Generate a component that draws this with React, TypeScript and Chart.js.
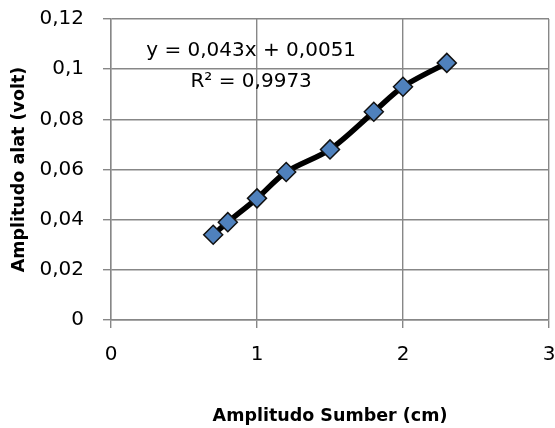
import React, { useEffect, useRef } from 'react';
import { Chart, registerables } from 'chart.js';

Chart.register(...registerables);

const xValues = [0.7, 0.8, 1, 1.2, 1.5, 1.8, 2, 2.3];
const yValues = [0.034, 0.039, 0.0485, 0.059, 0.068, 0.083, 0.093, 0.1025];
const xTicks = [0, 1, 2, 3];
const xTickLabels = ['0', '1', '2', '3'];
const yTicks = [0, 0.02, 0.04, 0.06, 0.08, 0.1, 0.12];
const yTickLabels = ['0', '0,02', '0,04', '0,06', '0,08', '0,1', '0,12'];
const equationLines = ['y = 0,043x + 0,0051', 'R² = 0,9973'];
const xTitle = 'Amplitudo Sumber (cm)';
const yTitle = 'Amplitudo alat (volt)';

const FONT = '"DejaVu Sans"';
const GRID = '#878787';

const zeroPadding = () => ({ left: 0, top: 0, right: 0, bottom: 0 });

const equationPlugin = {
  id: 'equationLabel',
  afterDatasetsDraw(chart: any) {
    const { ctx, scales } = chart;
    const x = scales.x;
    const y = scales.y;
    ctx.save();
    ctx.font = `20px ${FONT}`;
    ctx.fillStyle = '#000';
    ctx.textAlign = 'center';
    ctx.textBaseline = 'middle';
    const cx = x.getPixelForValue(0.96);
    ctx.fillText(equationLines[0], cx, y.getPixelForValue(0.1074));
    ctx.fillText(equationLines[1], cx, y.getPixelForValue(0.0951));
    ctx.restore();
  },
};

export default function App() {
  const ref = useRef<HTMLCanvasElement | null>(null);

  useEffect(() => {
    if (!ref.current) return;
    const chart = new Chart(ref.current, {
      type: 'scatter',
      data: {
        datasets: [
          {
            data: xValues.map((v, i) => ({ x: v, y: yValues[i] })),
            showLine: true,
            borderColor: '#000',
            borderWidth: 5.5,
            tension: 0.3,
            pointStyle: 'rectRot',
            pointRadius: 9.5,
            pointBackgroundColor: '#4F81BD',
            pointBorderColor: '#111',
            pointBorderWidth: 1.5,
            clip: false,
          },
        ],
      },
      options: {
        responsive: false,
        animation: false,
        layout: { autoPadding: false, padding: { top: 19, right: 6, left: 0, bottom: 0 } },
        plugins: { legend: { display: false }, tooltip: { enabled: false } },
        scales: {
          x: {
            type: 'linear',
            min: 0,
            max: 3,
            afterBuildTicks: (s: any) => {
              s.ticks = xTicks.map((v) => ({ value: v }));
            },
            afterFit: (s: any) => {
              s.height = 108;
              s.paddingLeft = 0;
              s.paddingRight = 0;
              s.getPadding = zeroPadding;
            },
            ticks: {
              font: { family: FONT, size: 20 },
              color: '#000',
              padding: 15,
              maxRotation: 0,
              callback: (_v: any, i: number) => xTickLabels[i],
            },
            grid: { color: GRID, lineWidth: 1.4, tickLength: 8 },
            border: { color: GRID, width: 1.4 },
            title: {
              display: true,
              text: xTitle,
              font: { family: FONT, size: 17.5, weight: 'bold' },
              color: '#000',
              padding: { top: 0, bottom: 1.5 },
            },
          },
          y: {
            type: 'linear',
            min: 0,
            max: 0.12,
            afterBuildTicks: (s: any) => {
              s.ticks = yTicks.map((v) => ({ value: v }));
            },
            afterFit: (s: any) => {
              s.width = 111;
              s.paddingTop = 0;
              s.paddingBottom = 0;
              s.getPadding = zeroPadding;
            },
            ticks: {
              font: { family: FONT, size: 20 },
              color: '#000',
              padding: 19,
              callback: (_v: any, i: number) => yTickLabels[i],
            },
            grid: { color: GRID, lineWidth: 1.4, tickLength: 8 },
            border: { color: GRID, width: 1.4 },
            title: {
              display: true,
              text: yTitle,
              font: { family: FONT, size: 17.5, weight: 'bold' },
              color: '#000',
              padding: { top: 8.5, bottom: 0 },
            },
          },
        },
      },
      plugins: [equationPlugin],
    });
    return () => chart.destroy();
  }, []);

  return (
    <div style={{ position: 'absolute', left: 0, top: 0, width: 555, height: 428, background: '#fff' }}>
      <canvas ref={ref} width={555} height={428} />
    </div>
  );
}
